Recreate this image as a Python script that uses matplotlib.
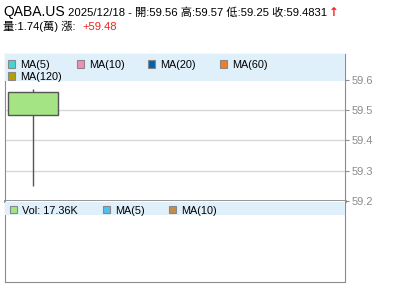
import matplotlib
matplotlib.use("Agg")
import matplotlib.pyplot as plt
from matplotlib.patches import Rectangle

plt.rcParams['font.family'] = ['Liberation Sans', 'Noto Sans CJK TC', 'DejaVu Sans']

# données de la séance
symbol = "QABA.US"
dates = ["2025/12/18"]
opens = [59.56]
highs = [59.57]
lows = [59.25]
closes = [59.4831]
change = "+59.48"
volume_wan = "1.74"
volume_label = "17.36K"
price_ticks = [59.2, 59.3, 59.4, 59.5, 59.6]
price_legend = ["MA(5)", "MA(10)", "MA(20)", "MA(60)", "MA(120)"]
price_legend_colors = ["#44d4d4", "#f48cb4", "#0062b0", "#f47c20", "#b4a000"]
vol_legend = ["Vol: " + volume_label, "MA(5)", "MA(10)"]
vol_legend_colors = ["#a4e484", "#50c0f0", "#c48c48"]

W, H = 400, 301
fig = plt.figure(figsize=(W / 100, H / 100), dpi=100)


def px(x, y):
    # pixels (origine en haut à gauche) -> fraction de figure
    return x / W, 1 - y / H


def axes_box(x0, y0, x1, y1):
    return [x0 / W, 1 - y1 / H, (x1 - x0) / W, (y1 - y0) / H]


# titre
fig.text(*px(3, 16), symbol, fontsize=10, va='baseline')
fig.text(*px(68, 16), dates[-1] + " - 開:%.2f 高:%.2f 低:%.2f 收:%.4f" % (opens[-1], highs[-1], lows[-1], closes[-1]),
         fontsize=8.1, va='baseline')
fig.text(*px(329, 16.5), "↑", fontsize=8.5, color='#ee2222', va='baseline', fontweight='bold',
         family=['DejaVu Sans'])
fig.text(*px(3, 30), "量:%s(萬) 漲:" % volume_wan, fontsize=8.1, va='baseline')
fig.text(*px(82, 30), change, fontsize=8.1, va='baseline', color='#ee2222')

grey = '#8c8c8c'

# panneau des prix
ax = fig.add_axes(axes_box(5, 54, 345, 201))
ax.set_ylim(59.2, 59.6 + 26 / 303)
ax.set_xlim(-0.448, 4.992)
for y in price_ticks[1:-1]:
    ax.axhline(y, color='#d8d8d8', lw=1, zorder=0)

for i in range(len(opens)):
    lo_b, hi_b = min(opens[i], closes[i]), max(opens[i], closes[i])
    ax.vlines(i, lows[i], highs[i], color='#555555', lw=1, zorder=2)
    ax.add_patch(Rectangle((i - 0.4, lo_b), 0.8, hi_b - lo_b, facecolor='#a4e484',
                           edgecolor='#555555', lw=1, zorder=3))

ax.yaxis.tick_right()
ax.set_yticks(price_ticks)
ax.set_yticklabels(["%.1f" % t for t in price_ticks])
ax.tick_params(axis='y', colors=grey, labelcolor=grey, labelsize=8, length=3, pad=2)
ax.set_xticks([])
for s in ax.spines.values():
    s.set_color(grey)
ax.spines['bottom'].set_linewidth(2)

# bandeau de légende
ax.add_patch(Rectangle((0, 1 - 27 / 147), 1, 27 / 147, transform=ax.transAxes,
                       facecolor='#dff0fa', edgecolor='none', zorder=4))
legend_pos = [(8, 64), (77, 64), (148, 64), (220, 64), (8, 76)]
for (lx, ly), name, c in zip(legend_pos, price_legend, price_legend_colors):
    fig.patches.append(Rectangle(px(lx, ly + 3.5), 7 / W, 7 / H, transform=fig.transFigure,
                                 facecolor=c, edgecolor='#888888', lw=0.8, zorder=5))
    fig.text(*px(lx + 12, ly + 3.5), name, fontsize=7.8, va='baseline', zorder=6)

# panneau du volume
axv = fig.add_axes(axes_box(5, 201, 345, 282))
axv.set_xlim(ax.get_xlim())
axv.set_xticks([])
axv.set_yticks([])
for s in axv.spines.values():
    s.set_color(grey)
axv.spines['top'].set_visible(False)
axv.add_patch(Rectangle((0, 1 - 14 / 81), 1, 13 / 81, transform=axv.transAxes,
                        facecolor='#dff0fa', edgecolor='none', zorder=4))
vol_pos = [(10, 210), (103, 210), (169, 210)]
for (lx, ly), name, c in zip(vol_pos, vol_legend, vol_legend_colors):
    fig.patches.append(Rectangle(px(lx, ly + 3), 7 / W, 7 / H, transform=fig.transFigure,
                                 facecolor=c, edgecolor='#888888', lw=0.8, zorder=5))
    fig.text(*px(lx + 12, ly + 3.5), name, fontsize=7.8, va='baseline', zorder=6)

fig.savefig("out.png", dpi=100)
